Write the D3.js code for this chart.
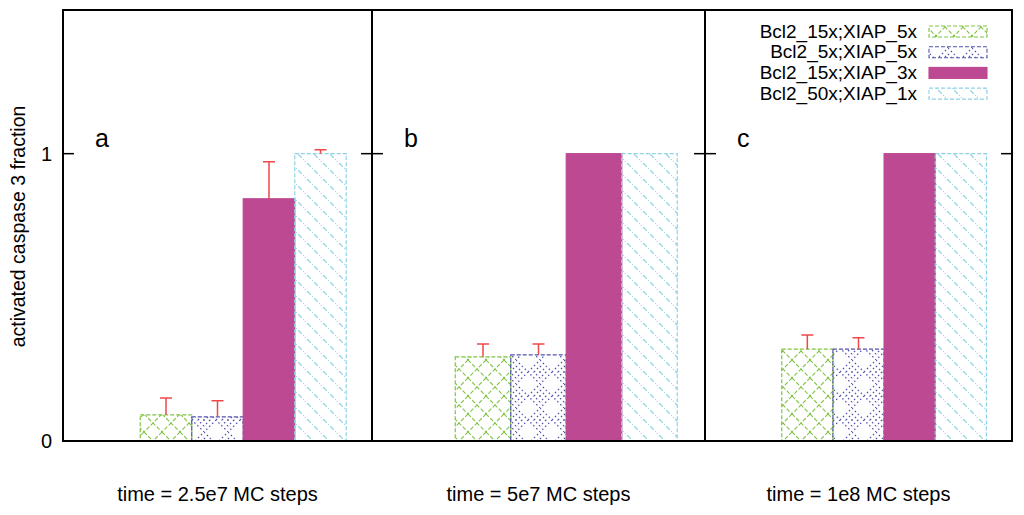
<!DOCTYPE html>
<html>
<head>
<meta charset="utf-8">
<script src="https://cdn.jsdelivr.net/npm/d3@7"></script>
<style>
  body { margin: 0; background: #fff; }
  text { font-family: "Liberation Sans", Arial, sans-serif; }
</style>
</head>
<body>
<div id="chart"></div>
<script>
// data
const series = ["Bcl2_15x;XIAP_5x", "Bcl2_5x;XIAP_5x", "Bcl2_15x;XIAP_3x", "Bcl2_50x;XIAP_1x"];
const panelLetters = ["a", "b", "c"];
const timeLabels = ["time = 2.5e7 MC steps", "time = 5e7 MC steps", "time = 1e8 MC steps"];
const valuesA = [0.091, 0.084, 0.843, 1.0];
const valuesB = [0.293, 0.300, 1.0, 1.0];
const valuesC = [0.320, 0.320, 1.0, 1.0];
const errorsA = [0.059, 0.056, 0.129, 0.014];
const errorsB = [0.045, 0.038, 0, 0];
const errorsC = [0.049, 0.039, 0, 0];
const yTicks = [0, 1];

const values = [valuesA, valuesB, valuesC];
const errors = [errorsA, errorsB, errorsC];

const width = 1024, height = 515;
const plotTop = 10, plotBottom = 441;
const edges = [63, 372, 705, 1012];
const colors = ["#80c342", "#5252ae", "#bc4991", "#8fd2e6"];

const svg = d3.select("#chart").append("svg")
  .attr("width", width)
  .attr("height", height);

const defs = svg.append("defs");

// green crosshatch
const pg = defs.append("pattern").attr("id", "pat0")
  .attr("patternUnits", "userSpaceOnUse").attr("width", 18).attr("height", 18);
pg.append("path").attr("d", "M0,0L18,18M18,0L0,18")
  .attr("stroke", colors[0]).attr("stroke-width", 1.1).attr("stroke-dasharray", "4,2").attr("fill", "none");

// blue dotted diamonds
const pb = defs.append("pattern").attr("id", "pat1")
  .attr("patternUnits", "userSpaceOnUse").attr("width", 24).attr("height", 24);
pb.append("path").attr("d", "M0,12L12,0L24,12L12,24Z M6,12L12,6L18,12L12,18Z")
  .attr("stroke", colors[1]).attr("stroke-width", 1.2).attr("stroke-dasharray", "1.6,2.6").attr("fill", "none");
pb.append("circle").attr("cx", 12).attr("cy", 12).attr("r", 0.9).attr("fill", colors[1]);

// cyan diagonal
const pc = defs.append("pattern").attr("id", "pat3")
  .attr("patternUnits", "userSpaceOnUse").attr("width", 16).attr("height", 16);
pc.append("path").attr("d", "M-4,-4L20,20M-4,12L4,20M12,-4L20,4")
  .attr("stroke", colors[3]).attr("stroke-width", 1.3).attr("stroke-dasharray", "5,2,1,2").attr("fill", "none");

const fills = ["url(#pat0)", "url(#pat1)", colors[2], "url(#pat3)"];

const y = d3.scaleLinear().domain([0, 1.5]).range([plotBottom, plotTop]);

panelLetters.forEach((letter, p) => {
  const x = d3.scaleLinear().domain([-2, 4]).range([edges[p], edges[p + 1]]);
  const g = svg.append("g");

  const bars = series.map((s, i) => ({ i, v: values[p][i], e: errors[p][i] }));

  g.selectAll("rect.bar")
    .data(bars)
    .join("rect")
    .attr("class", "bar")
    .attr("x", d => x(d.i - 0.5))
    .attr("width", d => x(d.i + 0.5) - x(d.i - 0.5))
    .attr("y", d => y(d.v))
    .attr("height", d => y(0) - y(d.v))
    .attr("fill", d => fills[d.i])
    .attr("stroke", d => colors[d.i])
    .attr("stroke-width", 1.2)
    .attr("stroke-dasharray", d => d.i === 2 ? null : "4,2");

  const eb = bars.filter(d => d.e > 0);
  g.selectAll("path.err")
    .data(eb)
    .join("path")
    .attr("class", "err")
    .attr("d", d => {
      const cx = x(d.i), y0 = y(d.v), y1 = y(d.v + d.e);
      return `M${cx},${y0}V${y1}M${cx - 6},${y1}H${cx + 6}`;
    })
    .attr("stroke", "#f04848")
    .attr("stroke-width", 1.5)
    .attr("fill", "none");

  // panel letter
  g.append("text")
    .attr("x", edges[p] + 32)
    .attr("y", y(1) - 7)
    .attr("font-size", 25)
    .text(letter);

  // x label
  g.append("text")
    .attr("x", (edges[p] + edges[p + 1]) / 2)
    .attr("y", 501)
    .attr("text-anchor", "middle")
    .attr("font-size", 20)
    .text(timeLabels[p]);
});

// ticks on all vertical borders
edges.forEach((ex, k) => {
  yTicks.forEach(t => {
    if (t === 0) return;
    const x1 = k === 0 ? ex : ex - 11;
    const x2 = k === edges.length - 1 ? ex : ex + 11;
    svg.append("line")
      .attr("x1", x1).attr("x2", x2)
      .attr("y1", y(t)).attr("y2", y(t))
      .attr("stroke", "#000").attr("stroke-width", 1.5);
  });
});

// frames
svg.append("rect")
  .attr("x", edges[0]).attr("y", plotTop)
  .attr("width", edges[3] - edges[0]).attr("height", plotBottom - plotTop)
  .attr("fill", "none").attr("stroke", "#000").attr("stroke-width", 2);
[edges[1], edges[2]].forEach(ex => {
  svg.append("line")
    .attr("x1", ex).attr("x2", ex).attr("y1", plotTop).attr("y2", plotBottom)
    .attr("stroke", "#000").attr("stroke-width", 2);
});

// y tick labels
svg.selectAll("text.ytick")
  .data(yTicks)
  .join("text")
  .attr("class", "ytick")
  .attr("x", edges[0] - 11)
  .attr("y", d => y(d) + 7)
  .attr("text-anchor", "end")
  .attr("font-size", 20)
  .text(d => d);

// y label
svg.append("text")
  .attr("transform", `translate(25,${(plotTop + plotBottom) / 2 + 1}) rotate(-90)`)
  .attr("text-anchor", "middle")
  .attr("font-size", 19.5)
  .text("activated caspase 3 fraction");

// legend
const leg = svg.append("g");
series.forEach((s, i) => {
  const ly = 31 + i * 20.7;
  leg.append("text")
    .attr("x", 917).attr("y", ly + 6.5)
    .attr("text-anchor", "end")
    .attr("font-size", 19)
    .text(s);
  leg.append("rect")
    .attr("x", 929).attr("y", ly - 5)
    .attr("width", 58).attr("height", 11)
    .attr("fill", fills[i])
    .attr("stroke", colors[i])
    .attr("stroke-width", 1.1)
    .attr("stroke-dasharray", i === 2 ? null : "4,2");
});
</script>
</body>
</html>
